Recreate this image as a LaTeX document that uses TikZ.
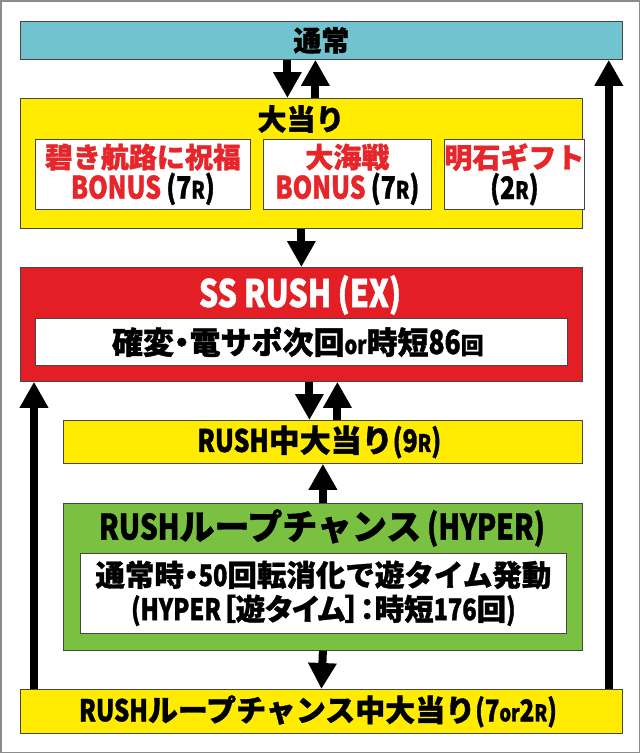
\documentclass[tikz,border=0pt]{standalone}
\usepackage{fontspec}
\usepackage{xcolor}
\usepackage{tikz}
\usetikzlibrary{arrows.meta, positioning, calc}
\newfontfamily\jpfont{Noto Sans CJK JP}[BoldFeatures={FakeBold=1.2}]
\newfontfamily\ppfont{Noto Sans CJK JP}[RawFeature=+palt, BoldFeatures={FakeBold=1.2}]
\newfontfamily\latfont{Noto Sans CJK JP}[FakeStretch=0.8, BoldFeatures={FakeBold=1.2}]
\definecolor{normalteal}{RGB}{114, 195, 208}
\definecolor{hityellow}{RGB}{255, 236, 0}
\definecolor{rushred}{RGB}{227, 30, 36}
\definecolor{loopgreen}{RGB}{122, 193, 66}
\definecolor{bonusred}{RGB}{230, 38, 42}
\definecolor{boxborder}{RGB}{70, 70, 70}
\definecolor{framegray}{RGB}{140, 140, 140}
\newcommand{\lt}[1]{{\latfont\bfseries #1}}
\newcommand{\pp}[1]{{\ppfont\bfseries #1}}
\newcommand{\sm}[2]{{\fontsize{#1}{#1}\selectfont #2}}
\tikzset{
  baseblock/.style={
    rectangle, draw=boxborder, line width=0.8pt,
    inner sep=0pt, anchor=north west, align=center,
    font=\jpfont\bfseries\fontsize{28}{31}\selectfont
  },
  normalblock/.style={baseblock, fill=normalteal},
  hitblock/.style={baseblock, fill=hityellow},
  rushblock/.style={baseblock, fill=rushred},
  loopblock/.style={baseblock, fill=loopgreen},
  infoblock/.style={baseblock, fill=white},
  titletext/.style={
    inner sep=0pt, align=center,
    font=\jpfont\bfseries\fontsize{29}{32}\selectfont
  },
  flowline/.style={
    draw=black, line width=8pt, -{Triangle[width=27pt, length=26pt]}
  }
}

\begin{document}
\begin{tikzpicture}[x=1pt, y=-1pt]

  \useasboundingbox (0,0) rectangle (640,753);
  \draw[framegray, line width=1.5pt] (0.75,0.75) rectangle (639.25,752.25);

  % Normal
  \node[normalblock, minimum width=602pt, minimum height=38pt] (normal) at (20,21) {通常};

  % Jackpot
  \node[hitblock, minimum width=562pt, minimum height=130pt] (hit) at (20,98) {};
  \node[titletext] (hittitle) at (301,119) {大当り};
  \node[infoblock, text=bonusred, minimum width=215pt, minimum height=70pt] (bonusa) at (35,139) {
    碧き航路に祝福\\
    \lt{\fontsize{31}{31}\selectfont BONUS\,\textcolor{black}{(7\sm{24}{R})}}
  };
  \node[infoblock, text=bonusred, minimum width=168pt, minimum height=70pt] (bonusb) at (263,139) {
    大海戦\\
    \lt{\fontsize{31}{31}\selectfont BONUS\,\textcolor{black}{(7\sm{24}{R})}}
  };
  \node[infoblock, text=bonusred, minimum width=123pt, minimum height=70pt] (bonusc) at (444,139) {
    明石ギフト\\
    \lt{\fontsize{31}{31}\selectfont\textcolor{black}{(2\sm{24}{R})}}
  };

  % SS RUSH
  \node[rushblock, minimum width=562pt, minimum height=114pt] (ssrush) at (20,267) {};
  \node[titletext, text=white] (sstitle) at (300,295) {\lt{\fontsize{38}{40}\selectfont SS RUSH\,(EX)}};
  \node[infoblock, minimum width=532pt, minimum height=47pt, font=\jpfont\bfseries\fontsize{31}{32}\selectfont] (ssinfo) at (35,318) {
    確変\pp{・}電サポ次回\lt{\sm{25}{or}}時短\lt{\sm{33}{86}}\sm{23}{回}
  };

  % RUSH jackpot
  \node[hitblock, minimum width=519pt, minimum height=43pt, font=\jpfont\bfseries\fontsize{31}{33}\selectfont] (rushhit) at (63,420) {
    \lt{RUSH}中大当り\lt{(9\sm{24}{R})}
  };

  % Loop chance
  \node[loopblock, minimum width=519pt, minimum height=147pt] (loop) at (63,503) {};
  \node[titletext, font=\jpfont\bfseries\fontsize{35}{36}\selectfont] (looptitle) at (322,528) {\lt{RUSH}ループチャンス\lt{\,(HYPER)}};
  \node[infoblock, minimum width=486pt, minimum height=80pt, font=\jpfont\bfseries\fontsize{29.5}{34}\selectfont] (loopinfo) at (80,553) {
    通常時\pp{・}\lt{50}回転消化で遊タイム発動\\
    \lt{(HYPER}\pp{［遊タイム］：}時短\lt{176}回\lt{)}
  };

  % Loop chance jackpot
  \node[hitblock, minimum width=602pt, minimum height=44pt, font=\jpfont\bfseries\fontsize{30}{32}\selectfont] (loophit) at (20,689) {
    \lt{RUSH}ループチャンス中大当り\lt{(7\sm{23}{or}2\sm{23}{R})}
  };

  \draw[flowline] ([xshift=-34pt]normal.south) -- ([xshift=-34pt]normal.south |- hit.north);
  \draw[flowline] ([xshift=-6pt]normal.south |- hit.north) -- ([xshift=-6pt]normal.south);
  \draw[flowline] (hit.south) -- (ssrush.north);
  \draw[flowline] ([xshift=8pt]ssrush.south) -- ([xshift=8pt]ssrush.south |- rushhit.north);
  \draw[flowline] ([xshift=36pt]ssrush.south |- rushhit.north) -- ([xshift=36pt]ssrush.south);
  \draw[flowline] (loop.north) -- (rushhit.south);
  \draw[flowline] (loop.south) -- (loophit.north);
  \draw[flowline] ([xshift=14pt]loophit.north west) -- ([xshift=14pt]ssrush.south west);
  \draw[flowline] ([xshift=-14pt]loophit.north east) -- ([xshift=-14pt]normal.south east);

\end{tikzpicture}
\end{document}
